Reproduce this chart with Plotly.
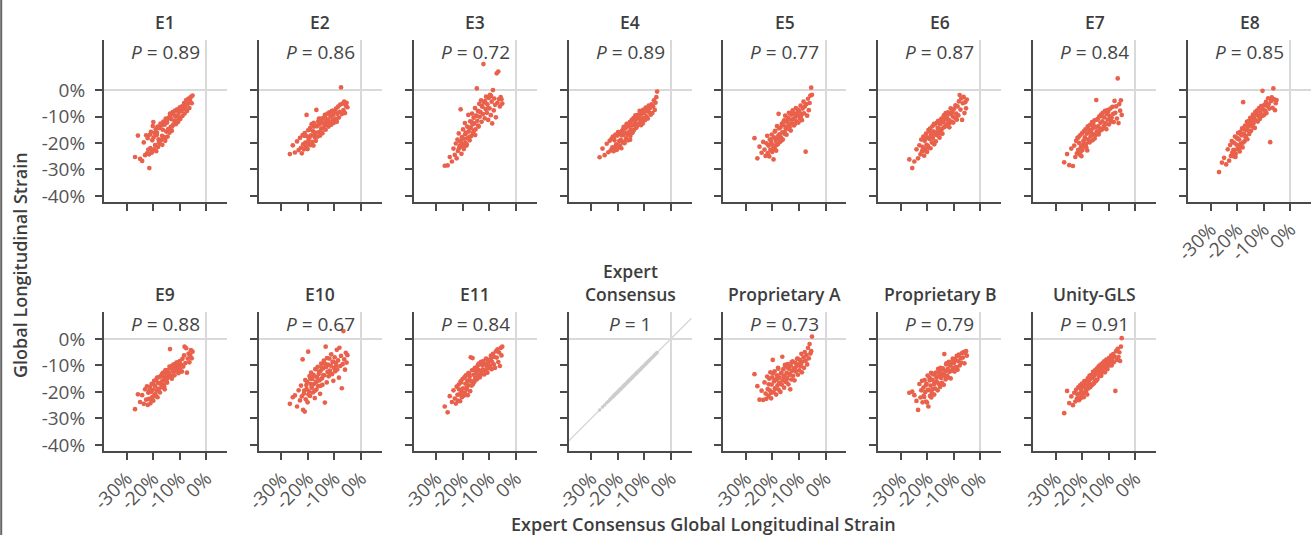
import plotly.graph_objects as go

# ---------------- data ----------------
# Expert consensus GLS (%) for each patient (shared x of all panels)
x_consensus = [
    -26.8, -25.7, -24.9, -24.1, -23.5, -23.0, -22.6, -22.3, -22.0, -21.8,
    -21.5, -21.2, -21.0, -20.8, -20.5, -20.3, -20.1, -19.9, -19.6, -19.4,
    -19.2, -19.0, -18.8, -18.6, -18.3, -18.1, -17.9, -17.7, -17.4, -17.2,
    -17.0, -16.8, -16.5, -16.3, -16.1, -15.9, -15.6, -15.4, -15.2, -15.0,
    -14.7, -14.5, -14.3, -14.0, -13.8, -13.6, -13.3, -13.1, -12.9, -12.6,
    -12.4, -12.2, -11.9, -11.7, -11.4, -11.2, -10.9, -10.7, -10.4, -10.2,
    -9.9, -9.7, -9.4, -9.1, -8.9, -8.6, -8.3, -8.1, -7.8, -7.5,
    -7.2, -6.9, -6.6, -6.3, -6.0, -5.7, -5.4, -5.1,
    -21.4, -20.6, -19.8, -19.1, -18.5, -17.8, -17.5, -16.6, -15.8, -15.3,
    -14.8, -14.2, -13.5, -12.8, -11.6, -10.5, -9.3,
]

y_E1 = [
    -25.3, -17.2, -26.0, -26.8, -19.8, -24.6, -17.1, -23.9, -18.2, -22.5,
    -24.3, -16.9, -21.9, -15.8, -23.7, -19.0, -13.6, -12.1, -22.4, -16.3,
    -20.8, -14.9, -23.1, -17.0, -13.8, -21.5, -18.6, -14.2, -20.3, -12.7,
    -18.9, -13.4, -20.7, -15.0, -11.9, -17.8, -13.1, -19.2, -10.8, -15.7,
    -12.3, -17.6, -14.8, -10.4, -16.1, -8.9, -13.9, -11.0, -15.4, -8.3,
    -13.1, -9.2, -11.7, -7.8, -12.9, -9.9, -7.3, -11.6, -8.7, -10.3,
    -6.5, -10.9, -8.0, -6.2, -9.8, -7.2, -4.9, -8.9, -6.4, -3.8,
    -7.9, -5.3, -3.2, -6.8, -4.1, -2.6, -5.0, -2.1,
    -29.5, -22.8, -17.9, -20.9, -16.2, -19.6, -14.4, -17.3, -12.5, -18.0,
    -11.4, -15.1, -9.6, -13.8, -10.1, -12.0, -7.1,
]
y_E2 = [
    -24.2, -20.9, -23.6, -19.4, -22.7, -18.1, -21.8, -23.9, -17.0, -20.5,
    -22.4, -16.3, -19.9, -21.6, -9.4, -17.5, -22.3, -15.2, -20.4, -18.0,
    -14.4, -20.8, -17.1, -12.9, -19.6, -15.5, -21.0, -13.8, -17.8, -16.1,
    -19.2, -7.5, -13.3, -17.6, -11.8, -15.9, -13.0, -17.2, -10.9, -14.6,
    -12.2, -16.3, -10.6, -14.5, -12.9, -9.4, -15.0, -11.6, -13.3, -8.9,
    -11.1, -13.8, -8.4, -12.2, -10.0, -13.1, -7.9, -11.3, -9.3, -12.4,
    -8.1, -10.8, -7.0, -12.0, -9.0, -6.3, -10.4, -8.2, -5.5, 1.0,
    -9.1, -5.1, -7.6, -4.4, -8.7, -5.9, -4.8, -6.5,
    -17.3, -21.4, -19.0, -15.0, -20.6, -12.4, -16.9, -13.7, -10.8, -15.8,
    -12.0, -14.3, -10.1, -12.5, -9.3, -7.9, -11.5,
]
y_E3 = [
    -28.6, -28.5, -25.3, -27.0, -22.1, -24.5, -20.2, -25.8, -18.7, -23.0,
    -16.4, -21.2, -19.5, -7.3, -24.1, -17.8, -20.6, -14.9, -22.3, -18.4,
    -12.5, -19.9, -16.1, -21.0, -13.8, -18.2, -9.4, -15.7, -19.0, -11.8,
    -14.3, -17.4, -8.9, -13.0, -16.2, -10.5, -12.6, -6.8, -14.9, -9.7,
    0.6, -11.6, -7.9, -13.8, -5.2, -10.1, -8.4, -3.9, -12.0, -6.3,
    -9.1, 9.8, -4.7, -10.7, -7.2, -2.5, -8.6, -5.4, -11.3, -3.0,
    -6.9, -1.8, -9.5, -4.4, -12.6, 0.0, -7.7, -3.2, -5.6, -10.3,
    6.3, -4.8, 7.0, -3.4, -6.2, -2.7, -3.5, -5.1,
    -22.0, -19.3, -21.6, -16.7, -20.5, -14.2, -17.7, -12.1, -15.3, -17.0,
    -9.8, -13.4, -8.2, -6.0, -4.2, -6.9, -2.3,
]
y_E4 = [
    -25.4, -22.1, -24.6, -20.3, -23.5, -19.2, -22.8, -18.4, -21.7, -17.6,
    -23.1, -19.0, -21.9, -16.8, -20.5, -22.6, -17.2, -20.8, -15.9, -19.3,
    -21.6, -16.1, -18.8, -22.0, -15.3, -19.7, -17.0, -13.9, -20.1, -16.2,
    -14.5, -18.3, -12.8, -16.9, -19.0, -13.7, -15.8, -12.1, -17.4, -14.9,
    -11.3, -16.2, -13.4, -10.6, -15.1, -12.5, -9.6, -14.3, -11.0, -13.2,
    -9.4, -12.8, -10.5, -7.9, -11.8, -13.3, -9.0, -11.2, -7.5, -10.6,
    -8.7, -11.4, -6.6, -9.9, -7.7, -10.8, -5.9, -8.4, -6.8, -9.3,
    -5.4, -8.7, -6.2, -3.9, -7.5, -4.8, -2.7, -0.6,
    -18.2, -20.9, -15.9, -21.0, -17.1, -14.6, -19.5, -12.9, -16.5, -18.8,
    -13.1, -15.7, -11.9, -14.0, -9.6, -12.6, -7.8,
]
y_E5 = [
    -18.2, -25.8, -21.4, -23.7, -19.6, -22.5, -24.9, -20.1, -17.3, -23.8,
    -21.0, -25.1, -18.7, -22.6, -19.9, -16.8, -23.4, -20.7, -26.2, -17.9,
    -21.8, -15.4, -19.2, -22.9, -13.6, -18.3, -20.4, -9.0, -16.7, -19.6,
    -14.2, -17.9, -12.8, -16.0, -18.7, -13.3, -11.5, -15.8, -9.7, -14.4,
    -16.9, -12.1, -10.4, -14.7, -8.6, -13.0, -11.2, -15.3, -9.3, -12.6,
    -7.7, -11.0, -13.4, -8.9, -10.2, -6.8, -11.8, -9.5, -7.4, -12.3,
    -8.1, -10.6, -5.9, -9.2, -11.4, -7.0, -4.4, -8.8, -6.2, -23.3,
    -5.3, -9.7, -3.3, -7.6, -4.9, -2.1, 0.9, -1.8,
    -20.9, -18.6, -22.1, -15.7, -20.8, -17.3, -14.5, -19.1, -11.9, -16.6,
    -13.8, -10.6, -14.0, -9.0, -12.9, -8.3, -10.0,
]
y_E6 = [
    -26.2, -29.5, -27.0, -22.4, -25.8, -20.9, -24.3, -18.7, -23.1, -21.5,
    -17.6, -24.8, -19.2, -22.3, -16.5, -20.7, -23.4, -17.9, -15.1, -21.8,
    -18.5, -14.6, -22.0, -16.9, -19.8, -13.7, -18.1, -15.6, -20.5, -13.0,
    -16.8, -19.4, -12.4, -17.1, -14.3, -11.6, -16.2, -18.0, -12.9, -15.3,
    -10.8, -14.7, -16.5, -12.2, -9.6, -14.0, -11.1, -8.7, -13.5, -10.2,
    -12.6, -8.4, -11.3, -14.1, -9.0, -6.9, -11.9, -8.6, -10.0, -12.3,
    -7.1, -10.4, -5.8, -8.9, -11.2, -6.2, -9.6, -4.3, -1.9, -7.4,
    -3.2, -11.3, -5.0, -2.6, -8.7, -4.6, -6.9, -3.6,
    -22.9, -18.2, -21.1, -15.8, -17.4, -20.0, -12.8, -16.0, -14.6, -11.9,
    -16.4, -10.9, -13.9, -9.3, -12.5, -7.9, -10.6,
]
y_E7 = [
    -27.3, -24.2, -28.4, -22.1, -28.7, -21.0, -25.3, -19.2, -23.9, -18.1,
    -22.6, -20.0, -24.4, -17.1, -21.5, -25.0, -16.4, -22.7, -19.3, -15.6,
    -21.2, -17.9, -14.9, -20.4, -16.5, -22.8, -13.7, -18.6, -15.9, -19.8,
    -13.2, -17.5, -15.0, -12.1, -19.0, -14.3, -16.7, -11.5, -13.9, -17.1,
    -3.8, -15.6, -11.2, -13.7, -16.8, -10.0, -14.6, -12.4, -9.3, -15.0,
    -11.8, -8.6, -13.9, -10.3, -7.9, -12.6, -14.8, -9.1, -11.2, -8.2,
    -13.0, -9.8, -7.0, -11.9, -10.5, -6.4, -9.0, -12.1, -4.1, -8.6,
    -6.2, -10.8, 4.4, -12.5, -5.3, -7.8, -3.9, -9.4,
    -17.9, -23.3, -20.8, -18.7, -21.6, -14.5, -19.4, -16.1, -12.8, -18.3,
    -14.0, -11.0, -15.7, -9.9, -13.4, -7.6, -10.7,
]
y_E8 = [
    -31.0, -27.4, -25.6, -28.1, -22.4, -26.7, -20.8, -24.9, -19.3, -23.6,
    -25.0, -19.9, -22.8, -17.6, -24.1, -20.6, -18.0, -22.3, -16.2, -21.0,
    -18.7, -23.2, -15.8, -20.3, -17.1, -14.5, -21.7, -4.6, -16.5, -19.4,
    -13.4, -17.8, -15.2, -12.0, -18.6, -14.0, -11.6, -16.6, -13.2, -10.5,
    -15.4, -11.9, -13.8, -9.3, -12.6, -10.7, -14.3, -8.2, -11.5, -9.4,
    -7.7, -11.9, -9.8, -6.8, -10.9, -8.4, -6.1, -9.9, -0.3, -7.3,
    -9.5, -5.6, -7.9, -4.5, -8.7, -6.1, -3.1, -5.4, -7.0, -19.7,
    -4.2, -2.8, -6.7, 0.6, -3.5, -7.6, -5.0, -3.8,
    -22.6, -25.3, -18.4, -21.8, -16.8, -19.9, -14.7, -17.4, -12.6, -15.6,
    -10.6, -13.0, -11.4, -8.3, -9.9, -6.9, -8.0,
]
y_E9 = [
    -26.5, -20.9, -23.8, -21.2, -24.5, -19.0, -22.9, -17.9, -24.9, -20.3,
    -22.6, -18.1, -24.3, -20.0, -16.9, -21.9, -19.2, -23.3, -15.8, -20.9,
    -17.9, -21.6, -15.4, -19.5, -22.0, -16.6, -18.8, -14.4, -20.2, -16.9,
    -13.9, -18.2, -15.8, -12.8, -17.4, -14.7, -19.0, -12.2, -15.9, -13.6,
    -16.5, -11.7, -14.3, -12.8, -10.4, -3.8, -13.9, -11.2, -15.0, -10.0,
    -12.5, -9.6, -13.7, -10.7, -12.0, -8.9, -11.2, -9.9, -12.9, -10.3,
    -8.3, -11.6, -9.7, -12.3, -7.5, -10.4, -6.2, -2.9, -9.1, -3.5,
    -12.7, -7.4, -5.5, -8.8, -6.1, -4.2, -7.3, -4.8,
    -19.6, -23.0, -17.1, -21.0, -14.6, -18.9, -16.7, -13.3, -17.8, -11.7,
    -15.2, -12.9, -14.4, -10.1, -11.5, -8.7, -9.9,
]
y_E10 = [
    -24.5, -22.0, -21.3, -25.5, -19.4, -23.2, -17.6, -21.7, -7.7, -26.8,
    -20.6, -27.4, -15.5, -22.8, -18.9, -16.2, -23.9, -4.8, -19.8, -14.0,
    -21.5, -16.9, -12.7, -18.4, -15.1, -20.2, -13.5, -17.0, -22.3, -11.4,
    -16.3, -19.1, -14.4, -10.5, -17.8, -13.2, -15.6, -20.7, -12.0, -9.3,
    -14.9, -17.3, -11.1, -8.2, -13.7, -24.0, -2.9, -10.6, -16.4, -12.4,
    -9.7, -14.1, -7.4, -11.9, -10.1, -5.8, -13.3, -8.7, -15.8, -10.9,
    -6.9, -12.2, -9.0, -4.1, -11.5, -8.1, -14.6, -3.3, -10.2, -6.4,
    -18.6, -9.5, 3.0, -7.7, -11.6, -5.2, -8.9, -6.1,
    -19.5, -17.4, -21.0, -15.0, -18.0, -13.9, -19.6, -16.0, -12.3, -17.7,
    -10.7, -13.6, -9.4, -7.2, -12.8, -8.5, -10.0,
]
y_E11 = [
    -25.5, -27.7, -21.6, -23.8, -19.4, -22.5, -24.4, -18.0, -21.1, -23.3,
    -17.2, -20.9, -23.5, -16.0, -19.6, -22.0, -15.1, -18.6, -21.4, -14.6,
    -20.3, -16.9, -13.7, -19.1, -15.8, -21.2, -12.9, -17.5, -14.3, -19.7,
    -6.9, -15.9, -11.8, -7.2, -17.0, -13.5, -16.1, -10.9, -14.8, -12.2,
    -15.3, -10.4, -13.6, -11.7, -9.2, -14.5, -12.1, -8.6, -13.0, -10.0,
    -11.6, -8.3, -13.4, -9.5, -12.0, -7.4, -10.6, -12.7, -8.1, -11.0,
    -7.8, -10.2, -6.3, -11.4, -8.7, -5.6, -9.6, -6.8, -10.9, -4.7,
    -7.0, -3.9, -8.7, -5.1, -10.2, -3.4, -6.2, -2.9,
    -19.0, -16.4, -20.6, -14.2, -18.4, -15.7, -13.3, -17.6, -11.6, -14.9,
    -12.8, -9.7, -14.1, -8.8, -11.9, -9.0, -7.3,
]
y_PropA = [
    -13.3, -17.8, -22.9, -19.5, -23.0, -16.4, -20.6, -22.6, -14.2, -18.9,
    -21.5, -15.0, -19.4, -12.6, -22.4, -17.2, -14.5, -7.9, -20.1, -16.0,
    -12.2, -18.8, -15.4, -21.0, -13.7, -17.5, -10.9, -19.1, -14.6, -16.8,
    -20.0, -13.0, -17.2, -6.7, -15.6, -11.4, -18.4, -13.9, -10.3, -16.2,
    -12.8, -14.9, -9.5, -17.1, -11.2, -13.6, -19.0, -10.1, -15.3, -12.0,
    -8.4, -13.9, -11.1, -15.6, -9.0, -12.3, -10.2, -7.5, -13.5, -9.6,
    -11.8, -7.9, -10.3, -5.6, -12.6, -8.5, -6.9, -10.9, -4.9, -8.2,
    -6.1, -9.6, -3.4, -7.3, -1.9, -5.5, -4.6, 0.9,
    -17.1, -20.4, -12.9, -18.6, -15.2, -11.2, -16.5, -12.7, -14.3, -9.8,
    -16.0, -10.9, -13.1, -8.8, -11.2, -7.4, -9.5,
]
y_PropB = [
    -20.3, -19.9, -21.2, -23.4, -26.8, -17.0, -22.1, -19.4, -15.8, -23.9,
    -18.4, -21.9, -15.5, -20.1, -23.6, -16.9, -24.0, -13.8, -25.5, -19.3,
    -14.6, -21.5, -17.6, -12.8, -20.4, -15.4, -18.9, -13.2, -21.0, -16.3,
    -18.7, -12.7, -16.0, -14.3, -19.4, -11.3, -16.9, -13.7, -18.1, -10.9,
    -14.0, -16.6, -11.4, -13.2, -17.3, -5.7, -12.2, -15.3, -9.6, -13.8,
    -11.4, -14.5, -8.6, -12.4, -10.1, -14.9, -9.3, -12.0, -7.4, -11.0,
    -9.0, -12.3, -7.7, -10.7, -6.4, -11.6, -8.4, -5.9, -10.0, -7.2,
    -8.9, -5.3, -7.0, -4.9, -9.2, -5.2, -4.6, -6.3,
    -21.5, -17.5, -19.2, -15.6, -22.1, -13.4, -17.1, -14.5, -16.8, -12.5,
    -14.7, -11.1, -13.9, -9.2, -11.9, -8.3, -10.6,
]
y_Unity = [
    -28.0, -19.6, -24.2, -21.7, -25.0, -20.3, -23.6, -19.2, -22.5, -20.9,
    -18.3, -23.1, -20.6, -17.5, -22.3, -19.5, -16.8, -21.4, -18.1, -22.0,
    -15.9, -20.2, -17.6, -19.8, -16.0, -21.0, -14.9, -18.7, -16.4, -13.8,
    -18.2, -15.1, -13.5, -17.4, -14.6, -12.4, -16.7, -13.9, -11.8, -15.6,
    -13.0, -11.2, -15.3, -12.6, -10.3, -14.1, -11.8, -9.7, -13.4, -10.8,
    -12.3, -9.0, -11.0, -8.4, -12.6, -9.9, -7.8, -11.2, -8.9, -10.1,
    -7.2, -9.9, -8.0, -6.3, -10.0, -7.5, -5.7, -8.8, -6.6, -19.6,
    -4.6, -7.9, -3.7, -6.8, -5.0, -8.3, -2.9, 0.3,
    -22.4, -18.6, -20.5, -16.8, -19.1, -15.3, -17.7, -14.2, -16.9, -13.1,
    -15.9, -12.5, -11.6, -13.9, -9.8, -11.4, -8.5,
]

panel_titles = ["E1", "E2", "E3", "E4", "E5", "E6", "E7", "E8",
                "E9", "E10", "E11", "Expert<br>Consensus",
                "Proprietary A", "Proprietary B", "Unity-GLS"]
p_values = ["0.89", "0.86", "0.72", "0.89", "0.77", "0.87", "0.84", "0.85",
            "0.88", "0.67", "0.84", "1", "0.73", "0.79", "0.91"]
panel_y = [y_E1, y_E2, y_E3, y_E4, y_E5, y_E6, y_E7, y_E8,
           y_E9, y_E10, y_E11, x_consensus, y_PropA, y_PropB, y_Unity]

x_tickvals = [-30, -20, -10, 0]
x_ticktext = ["-30%", "-20%", "-10%", "0%"]
y_tickvals = [0, -10, -20, -30, -40]
y_ticktext = ["0%", "-10%", "-20%", "-30%", "-40%"]

x_title = "Expert Consensus Global Longitudinal Strain"
y_title = "Global Longitudinal Strain"

# ---------------- styling / layout ----------------
W, H = 1314, 535
FONT = "Open Sans"
DOT = "#e9604b"
CONSENSUS_DOT = "#cdcdcd"
AXIS = "#4a4a4a"
REF = "#d9d9d9"
TXT = "#3d3d3d"
TICKTXT = "#555555"

X_RANGE = [-38.5, 7.9]
Y_RANGES = [[-42.3, 18.9], [-42.3, 10.2]]
COL_LEFT0, COL_PITCH, PANEL_W = 104.0, 154.86, 123.0
ROW_TOP = [40.0, 312.0]
ROW_BOT = [202.0, 451.0]
TITLE_MID = [22.0, 293.5]
PLABEL_MID = [51.5, 324.0]

fig = go.Figure()
annotations = []
shapes = []
layout_axes = {}

for k, (title, pval, yv) in enumerate(zip(panel_titles, p_values, panel_y)):
    row = 0 if k < 8 else 1
    col = k if k < 8 else k - 8
    left = COL_LEFT0 + col * COL_PITCH
    xdom = [left / W, (left + PANEL_W) / W]
    ydom = [1 - ROW_BOT[row] / H, 1 - ROW_TOP[row] / H]
    n = k + 1
    xa = "x" if n == 1 else f"x{n}"
    ya = "y" if n == 1 else f"y{n}"
    is_consensus = title.startswith("Expert")

    fig.add_trace(go.Scatter(
        x=x_consensus, y=yv, mode="markers", xaxis=xa, yaxis=ya,
        marker=dict(size=3.6 if is_consensus else 4.7,
                    color=CONSENSUS_DOT if is_consensus else DOT,
                    line=dict(width=0)),
        showlegend=False, hoverinfo="skip"))

    show_x_labels = (row == 1) or (col == 7)
    show_y_labels = (col == 0)
    common = dict(showgrid=False, zeroline=True, zerolinecolor=REF, zerolinewidth=2,
                  showline=True, linecolor=AXIS, linewidth=2,
                  ticks="outside", ticklen=7, tickwidth=2, tickcolor=AXIS,
                  tickfont=dict(family=FONT, size=19, color=TICKTXT),
                  automargin=False, fixedrange=True)
    layout_axes["xaxis" if n == 1 else f"xaxis{n}"] = dict(
        common, domain=xdom, range=X_RANGE, anchor=ya,
        tickmode="array", tickvals=x_tickvals, ticktext=x_ticktext,
        showticklabels=show_x_labels, tickangle=-45)
    layout_axes["yaxis" if n == 1 else f"yaxis{n}"] = dict(
        common, domain=ydom, range=Y_RANGES[row], anchor=xa,
        tickmode="array", tickvals=y_tickvals, ticktext=y_ticktext,
        showticklabels=show_y_labels, ticklabelstandoff=6)

    if is_consensus:
        shapes.append(dict(type="line", xref=xa, yref=ya,
                           x0=X_RANGE[0], y0=X_RANGE[0], x1=X_RANGE[1], y1=X_RANGE[1],
                           line=dict(color=REF, width=1.5), layer="below"))

    cx = (xdom[0] + xdom[1]) / 2
    annotations.append(dict(
        text=title, xref="paper", yref="paper", x=cx,
        y=1 - TITLE_MID[row] / H if "<br>" not in title else 1 - (TITLE_MID[row] - 11) / H,
        xanchor="center", yanchor="middle", showarrow=False,
        font=dict(family=FONT, size=17.5, color=TXT, weight=600)))
    annotations.append(dict(
        text=f"<i>P</i> = {pval}", xref="paper", yref="paper", x=cx,
        y=1 - PLABEL_MID[row] / H, xanchor="center", yanchor="middle",
        showarrow=False, font=dict(family=FONT, size=19, color="#444444")))

annotations.append(dict(text=y_title, xref="paper", yref="paper", x=20 / W, y=1 - 265 / H,
                        textangle=-90, xanchor="center", yanchor="middle", showarrow=False,
                        font=dict(family=FONT, size=18, color=TXT, weight=600)))
annotations.append(dict(text=x_title, xref="paper", yref="paper", x=703 / W, y=1 - 524 / H,
                        xanchor="center", yanchor="middle", showarrow=False,
                        font=dict(family=FONT, size=18, color=TXT, weight=600)))

shapes.append(dict(type="line", xref="paper", yref="paper", x0=1.2 / W, x1=1.2 / W,
                   y0=0, y1=1, line=dict(color="#666666", width=2)))

fig.update_layout(
    template="none",
    width=W, height=H, autosize=False,
    margin=dict(l=0, r=0, t=0, b=0, pad=0),
    paper_bgcolor="white", plot_bgcolor="white",
    font=dict(family=FONT, color=TXT),
    annotations=annotations, shapes=shapes,
    **layout_axes)

fig.write_html("out.html",
               config={"displayModeBar": False},
               post_script="document.body.style.margin='0px';"
                           "document.body.style.padding='0px';"
                           "document.body.style.overflow='hidden';")
